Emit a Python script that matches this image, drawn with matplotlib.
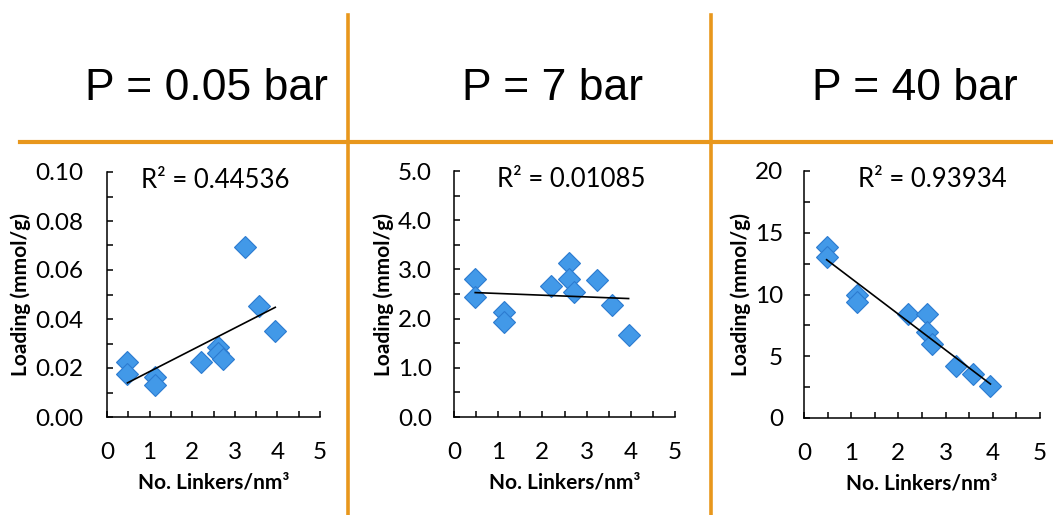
import numpy as np
import matplotlib
matplotlib.use("Agg")
import matplotlib.pyplot as plt
from matplotlib.lines import Line2D

# ---- data ----
linkers = [0.48, 0.48, 1.12, 1.12, 2.20, 2.60, 2.60, 2.72, 3.23, 3.57, 3.95]
load_005 = [0.0224, 0.0177, 0.0163, 0.0132, 0.0224, 0.0286, 0.0262, 0.0238, 0.0694, 0.0452, 0.0350]
load_7 = [2.81, 2.44, 2.13, 1.93, 2.66, 3.13, 2.81, 2.54, 2.78, 2.27, 1.66]
load_40 = [13.86, 13.00, 10.00, 9.40, 8.40, 8.40, 7.00, 6.00, 4.20, 3.60, 2.60]
titles = ["P = 0.05 bar", "P = 7 bar", "P = 40 bar"]
r2_labels = ["R² = 0.44536", "R² = 0.01085", "R² = 0.93934"]
ylims = [(0, 0.10), (0, 5.0), (0, 20)]
ymajor = [0.02, 1.0, 5]
yminor = [0.01, 0.5, 2.5]
yfmt = ["{:.2f}", "{:.1f}", "{:.0f}"]
xlabel = "No. Linkers/nm³"
ylabel = "Loading (mmol/g)"

W, H = 1053, 515
fig = plt.figure(figsize=(W / 100, H / 100), dpi=100)

ORANGE = "#E8971C"
tick_font = "Lato"

# panel boxes in pixels: left, right, top, bottom
boxes = [(107, 320, 172, 417), (454, 675, 171, 417), (804, 1040, 171, 418)]
title_x = [206, 553, 915]
r2_x = [215, 571, 932]
ylab_pad = [17, 16, 15]

# separator lines
fig.add_artist(Line2D([20 / W, 1], [1 - 141.5 / H] * 2, color=ORANGE, lw=3, transform=fig.transFigure))
for xv in [348, 711]:
    fig.add_artist(Line2D([xv / W] * 2, [0, 1 - 15 / H], color=ORANGE, lw=2.6, transform=fig.transFigure))

series = [load_005, load_7, load_40]
for i in range(3):
    l, r, t, b = boxes[i]
    ax = fig.add_axes([l / W, 1 - b / H, (r - l) / W, (b - t) / H])
    x = np.array(linkers)
    y = np.array(series[i])
    ax.plot(x, y, linestyle="none", marker="D", markersize=11,
            markerfacecolor="#4299E8", markeredgecolor="#2C7BD0", markeredgewidth=0.8, zorder=3)
    m, c = np.polyfit(x, y, 1)
    xx = np.array([x.min(), x.max()])
    ax.plot(xx, m * xx + c, color="black", lw=1.2, zorder=4)

    ax.set_xlim(0, 5)
    ax.set_ylim(*ylims[i])
    ax.set_xticks(np.arange(0, 5.01, 1))
    ax.set_xticks(np.arange(0.5, 5.01, 1), minor=True)
    ax.set_yticks(np.arange(0, ylims[i][1] + 1e-9, ymajor[i]))
    ax.set_yticks(np.arange(0, ylims[i][1] + 1e-9, yminor[i]), minor=True)
    ax.set_xticklabels([str(v) for v in range(6)])
    ax.set_yticklabels([yfmt[i].format(v) for v in np.arange(0, ylims[i][1] + 1e-9, ymajor[i])])
    for s in ["top", "right"]:
        ax.spines[s].set_visible(False)
    for s in ["left", "bottom"]:
        ax.spines[s].set_linewidth(1.1)
    ax.tick_params(which="both", direction="in", length=4, width=1.1)
    ax.tick_params(axis="y", which="major", pad=ylab_pad[i])
    ax.tick_params(axis="x", which="major", pad=18)
    for lab in ax.get_xticklabels() + ax.get_yticklabels():
        lab.set_fontfamily(tick_font)
        lab.set_fontsize(17.5)
    ax.set_xlabel(xlabel, fontfamily=tick_font, fontweight="bold", fontsize=15, labelpad=7)
    ax.set_ylabel(ylabel, fontfamily=tick_font, fontweight="bold", fontsize=15, labelpad=3)
    ax.text((r2_x[i] - l) / (r - l), 0.965, r2_labels[i], transform=ax.transAxes,
            ha="center", va="center", fontfamily=tick_font, fontsize=18.5)

    fig.text(title_x[i] / W, 1 - 100 / H, titles[i], ha="center", va="baseline",
             fontfamily="Liberation Sans", fontsize=32)

fig.savefig("out.png", dpi=100)
